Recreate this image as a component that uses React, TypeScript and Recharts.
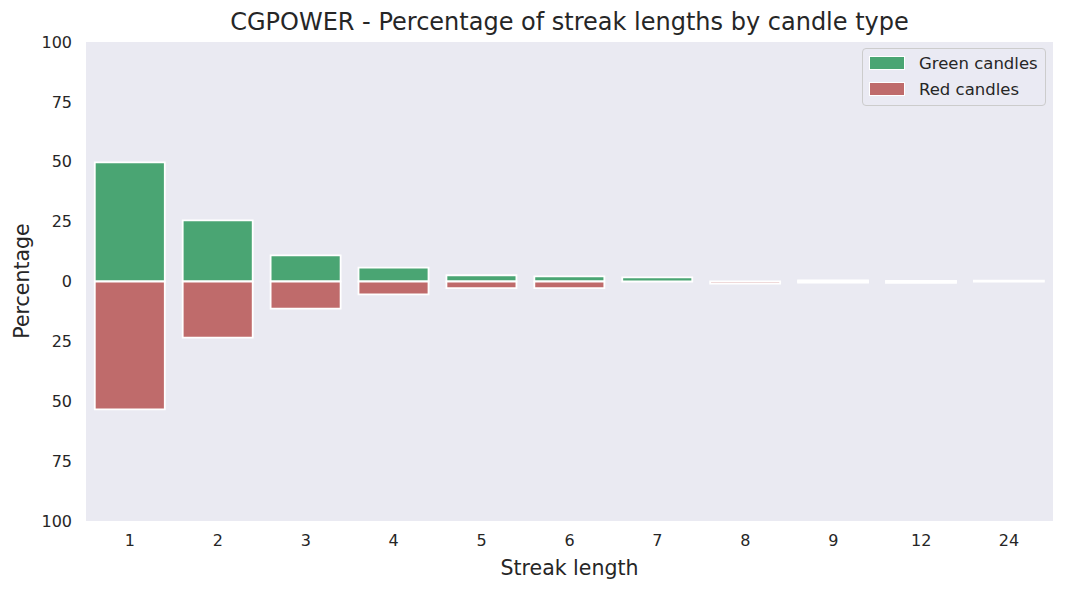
import { BarChart, Bar, XAxis, YAxis, CartesianGrid } from 'recharts';

const streakLengths = ['1', '2', '3', '4', '5', '6', '7', '8', '9', '12', '24'];
const greenPct = [49.7, 25.5, 10.9, 5.8, 2.6, 2.1, 1.7, 0, 0.5, 0.2, 0.4];
const redPct = [53.4, 23.4, 11.3, 5.4, 2.8, 2.8, 0, 0.9, 0.5, 0.6, 0];
const yTicks = [-100, -75, -50, -25, 0, 25, 50, 75, 100];

const GREEN = '#4AA573';
const RED = '#BF6B6B';
const FONT = '"DejaVu Sans", sans-serif';
const TEXT = '#262626';

// red candles go below zero
const data = streakLengths.map((len, i) => ({
  len,
  green: greenPct[i],
  red: -redPct[i],
}));

function LegendBox() {
  const items = [
    { label: 'Green candles', color: GREEN },
    { label: 'Red candles', color: RED },
  ];
  return (
    <div
      style={{
        position: 'absolute',
        left: 862,
        top: 48,
        width: 184,
        height: 58,
        boxSizing: 'border-box',
        border: '1px solid #CCCCCC',
        borderRadius: 4,
        background: 'rgba(234,234,242,0.8)',
        padding: '1px 0 0 6px',
        fontFamily: FONT,
        fontSize: 16.5,
        color: TEXT,
      }}
    >
      {items.map((it) => (
        <div key={it.label} style={{ display: 'flex', alignItems: 'center', height: 26 }}>
          <div style={{ width: 34, height: 12, background: it.color, border: '1px solid #fff', marginRight: 14 }} />
          <span>{it.label}</span>
        </div>
      ))}
    </div>
  );
}

export default function App() {
  return (
    <div style={{ position: 'relative', width: 1066, height: 592, background: '#fff' }}>
      <style>{`body{margin:0}`}</style>
      <div
        style={{
          position: 'absolute',
          left: 86,
          width: 967,
          top: 8,
          textAlign: 'center',
          fontFamily: FONT,
          fontSize: 24,
          color: TEXT,
        }}
      >
        CGPOWER - Percentage of streak lengths by candle type
      </div>
      <div
        style={{
          position: 'absolute',
          left: 86,
          width: 967,
          top: 556,
          textAlign: 'center',
          fontFamily: FONT,
          fontSize: 20.5,
          color: TEXT,
        }}
      >
        Streak length
      </div>
      <div
        style={{
          position: 'absolute',
          left: 22,
          top: 281,
          transform: 'translate(-50%, -50%) rotate(-90deg)',
          fontFamily: FONT,
          fontSize: 20.5,
          color: TEXT,
          whiteSpace: 'nowrap',
        }}
      >
        Percentage
      </div>
      <BarChart
        width={1066}
        height={592}
        data={data}
        stackOffset="sign"
        barCategoryGap="10%"
        margin={{ top: 42, right: 13, bottom: 0, left: 0 }}
        style={{ position: 'absolute', left: 0, top: 0 }}
      >
        <CartesianGrid fill="#EAEAF2" stroke="none" />
        <XAxis
          dataKey="len"
          height={71}
          axisLine={false}
          tickLine={false}
          tickSize={6}
          tickMargin={8}
          tick={{ fill: TEXT, fontSize: 16, fontFamily: FONT }}
        />
        <YAxis
          width={86}
          domain={[-100, 100]}
          ticks={yTicks}
          tickFormatter={(v: number) => String(Math.abs(v))}
          axisLine={false}
          tickLine={false}
          tickSize={6}
          tickMargin={8}
          tick={{ fill: TEXT, fontSize: 16, fontFamily: FONT }}
        />
        <Bar dataKey="green" name="Green candles" stackId="a" fill={GREEN} stroke="#fff" strokeWidth={1.8} isAnimationActive={false} />
        <Bar dataKey="red" name="Red candles" stackId="a" fill={RED} stroke="#fff" strokeWidth={1.8} isAnimationActive={false} />
      </BarChart>
      <LegendBox />
    </div>
  );
}
